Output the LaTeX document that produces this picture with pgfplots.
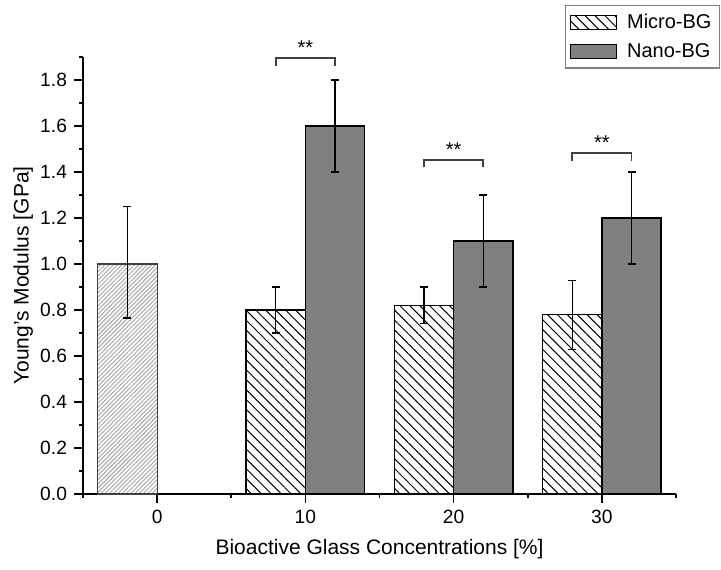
\documentclass[border=0pt]{standalone}
\usepackage{pgfplots}
\pgfplotsset{compat=1.18}
\usepackage{fontspec}
\setmainfont{Liberation Sans}
\usetikzlibrary{patterns.meta}

\definecolor{nanogray}{RGB}{128,128,128}
\definecolor{finegray}{RGB}{175,175,175}
\definecolor{brgray}{RGB}{64,64,64}

\pgfplotsset{
  barlegend/.style={legend image code/.code={\draw[##1] (0pt,-3.5pt) rectangle (23pt,3.5pt);}},
  errs/.style={draw=none, mark=none, forget plot,
    error bars/.cd, y dir=both, y explicit,
    error bar style={draw=black, line width=0.6pt, solid},
    error mark=|,
    error mark options={draw=black, mark size=2pt, line width=0.6pt}},
}

\begin{document}
\begin{tikzpicture}
\useasboundingbox (-41.5pt,-37.5pt) rectangle (319pt,247pt);
\begin{axis}[
  at={(0,0)}, anchor=south west,
  width=296.5pt, height=218.5pt, scale only axis,
  xmin=-5, xmax=35, ymin=0, ymax=1.9,
  clip=false,
  axis x line*=bottom, axis y line*=left,
  axis line style={line width=1pt},
  xtick={0,10,20,30}, minor xtick={-5,5,15,25,35},
  ytick={0,0.2,0.4,0.6,0.8,1.0,1.2,1.4,1.6,1.8},
  minor ytick={0.1,0.3,0.5,0.7,0.9,1.1,1.3,1.5,1.7,1.9},
  tick align=outside,
  major tick length=4.5pt, minor tick length=2pt,
  every tick/.style={line width=0.8pt, black},
  /pgf/number format/assume math mode=true,
  tick label style={font=\fontsize{9.6}{11}\selectfont},
  yticklabel style={/pgf/number format/fixed, /pgf/number format/fixed zerofill, /pgf/number format/precision=1},
  xlabel={Bioactive Glass Concentrations [\%]},
  ylabel={Young's Modulus [GPa]},
  label style={font=\fontsize{10.5}{12}\selectfont},
  xlabel style={at={(axis description cs:0.5,-0.126)}, anchor=center},
  ylabel style={at={(axis description cs:-0.101,0.5)}, anchor=center},
  legend style={at={(0.813,1.119)}, anchor=north west, draw=nanogray, line width=0.6pt,
    font=\fontsize{10}{12}\selectfont, row sep=2pt, inner sep=2pt,
    /tikz/every odd column/.append style={column sep=3pt}},
  legend cell align=left,
]

% 0 % reference bar
\addplot[ybar, bar width=4, bar shift=-2, draw=brgray, line width=0.6pt,
  pattern={Lines[angle=45,distance=1.5pt,line width=0.55pt]}, pattern color=finegray,
  forget plot]
  coordinates {(0,1.0)};

% Micro-BG
\addplot[ybar, barlegend, bar width=4, bar shift=-2, draw=black, line width=0.7pt,
  pattern={Lines[angle=-45,distance=3.5pt,line width=0.5pt]}, pattern color=black]
  coordinates {(10,0.80) (20,0.82) (30,0.78)};
\addlegendentry{Micro-BG}

% Nano-BG
\addplot[ybar, barlegend, bar width=4, bar shift=2, draw=black, line width=0.7pt,
  fill=nanogray]
  coordinates {(10,1.6) (20,1.1) (30,1.2)};
\addlegendentry{Nano-BG}

% error bars at bar centres
\addplot[errs] coordinates {
  (-2,1.00) += (0,0.25) -= (0,0.235)
  (8,0.80) += (0,0.10) -= (0,0.10)
  (18,0.82) += (0,0.08) -= (0,0.08)
  (28,0.78) += (0,0.15) -= (0,0.15)
  (12,1.6) += (0,0.2) -= (0,0.2)
  (22,1.1) += (0,0.2) -= (0,0.2)
  (32,1.2) += (0,0.2) -= (0,0.2)
};

% significance brackets
\draw[brgray, line width=0.8pt] (axis cs:8,1.861) -- (axis cs:8,1.896) -- (axis cs:12,1.896) -- (axis cs:12,1.861);
\node[font=\fontsize{10}{11}\selectfont] at (axis cs:10,1.942) {**};
\draw[brgray, line width=0.8pt] (axis cs:18,1.422) -- (axis cs:18,1.452) -- (axis cs:22,1.452) -- (axis cs:22,1.422);
\node[font=\fontsize{10}{11}\selectfont] at (axis cs:20,1.497) {**};
\draw[brgray, line width=0.8pt] (axis cs:28,1.448) -- (axis cs:28,1.483) -- (axis cs:32,1.483) -- (axis cs:32,1.448);
\node[font=\fontsize{10}{11}\selectfont] at (axis cs:30,1.527) {**};
\end{axis}
\end{tikzpicture}
\end{document}
